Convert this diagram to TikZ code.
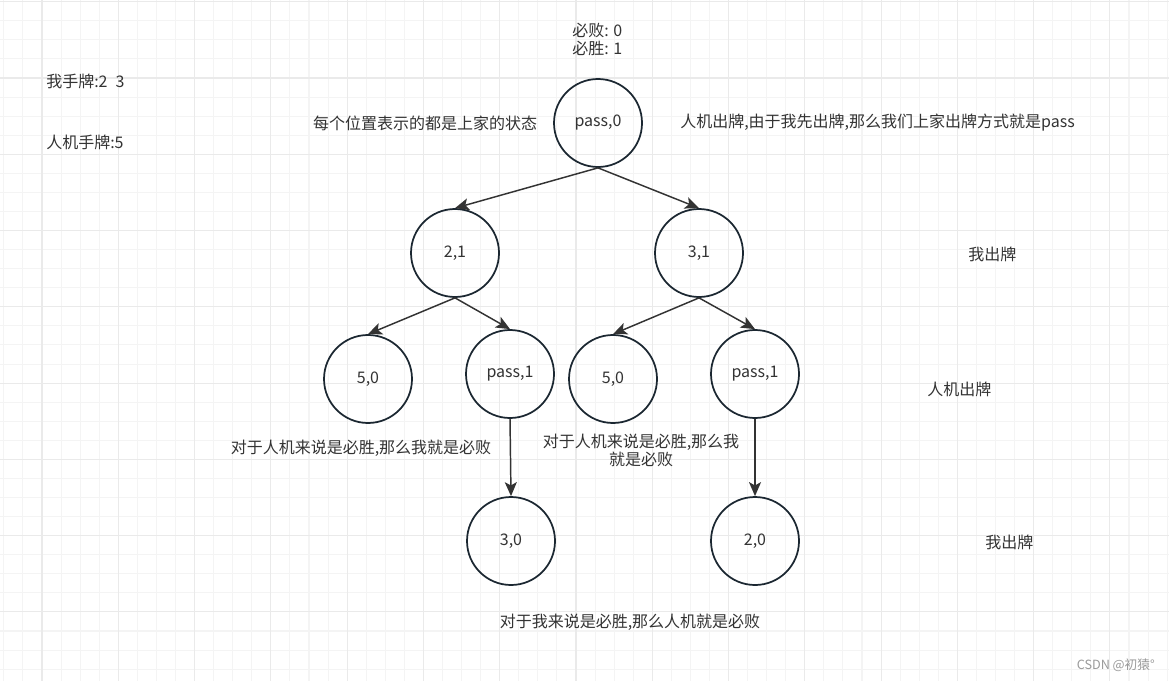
\documentclass[tikz,border=0pt]{standalone}
\usepackage{fontspec}
\setmainfont{Noto Sans CJK SC}
\usetikzlibrary{arrows.meta}

\definecolor{gridminor}{HTML}{F4F4F4}
\definecolor{gridmajor}{HTML}{EAEAEA}
\definecolor{edgeink}{HTML}{333333}
\definecolor{ringink}{HTML}{1B2731}
\definecolor{textink}{HTML}{333333}

\begin{document}
\begin{tikzpicture}[x=0.75pt, y=-0.75pt,
  state/.style={circle, draw=ringink, line width=1.3pt, minimum size=66pt,
    inner sep=0pt, text=textink, font=\fontsize{12}{14}\selectfont},
  move/.style={draw=edgeink, line width=1.1pt,
    -{Stealth[length=10.5pt, width=9pt, inset=2.5pt]}},
  note/.style={inner sep=0pt, text=textink, align=center,
    font=\fontsize{12}{13.5}\selectfont}]

  % Canvas and grid
  \useasboundingbox (0,0) rectangle (1169,681);
  \fill[white] (0,0) rectangle (1169,681);
  \foreach \i in {0,...,61}
    \draw[gridminor, line width=0.8pt] ({3.86+19.07*\i},0) -- ++(0,681);
  \foreach \j in {0,...,36}
    \draw[gridminor, line width=0.8pt] (0,{1.7+19.07*\j}) -- ++(1169,0);
  \foreach \i in {0,...,15}
    \draw[gridmajor, line width=0.8pt] ({42+76.28*\i},0) -- ++(0,681);
  \foreach \j in {0,...,9}
    \draw[gridmajor, line width=0.8pt] (0,{1.7+76.28*\j}) -- ++(1169,0);

  % Game tree states
  \node[state] (root) at (598,123) {pass,0};
  \node[state] (myTwo) at (455,253) {2,1};
  \node[state] (myThree) at (699,253) {3,1};
  \node[state] (aiFiveL) at (368,379) {5,0};
  \node[state] (aiPassL) at (510,374) {pass,1};
  \node[state] (aiFiveR) at (613,379) {5,0};
  \node[state] (aiPassR) at (755,374) {pass,1};
  \node[state] (myThreeEnd) at (511,541) {3,0};
  \node[state] (myTwoEnd) at (755,541) {2,0};

  % Moves
  \draw[move] (root.south) -- (myTwo.north);
  \draw[move] (root.south) -- (myThree.north);
  \draw[move] (myTwo.south) -- (aiFiveL.north);
  \draw[move] (myTwo.south) -- (aiPassL.north);
  \draw[move] (myThree.south) -- (aiFiveR.north);
  \draw[move] (myThree.south) -- (aiPassR.north);
  \draw[move] (aiPassL.south) -- (myThreeEnd.north);
  \draw[move] (aiPassR.south) -- (myTwoEnd.north);

  % Legend and hands
  \node[note, align=left, anchor=west] (rules) at (572,39) {必败: 0\\必胜: 1};
  \node[note, anchor=west] (myHand) at (46,81) {我手牌:2\enspace3};
  \node[note, anchor=west] (aiHand) at (46,142) {人机手牌:5};

  % Remarks beside the root
  \node[note] (meaning) at (425,123) {每个位置表示的都是上家的状态};
  \node[note, anchor=west] (rootNote) at (680,123)
    {人机出牌,由于我先出牌,那么我们上家出牌方式就是pass};

  % Whose turn on each level
  \node[note, anchor=west] (turnOne) at (968,254) {我出牌};
  \node[note, anchor=west] (turnTwo) at (927,389) {人机出牌};
  \node[note, anchor=west] (turnThree) at (985,542) {我出牌};

  % Outcome remarks
  \node[note] (loseLeft) at (361,448) {对于人机来说是必胜,那么我就是必败};
  \node[note] (loseRight) at (641,450) {对于人机来说是必胜,那么我\\就是必败};
  \node[note] (winBottom) at (630,622) {对于我来说是必胜,那么人机就是必败};

  % Watermark
  \node[inner sep=0pt, anchor=east, text=gray!80, font=\fontsize{9.5}{11}\selectfont]
    (mark) at (1155,665) {CSDN @初猿°};

\end{tikzpicture}
\end{document}
